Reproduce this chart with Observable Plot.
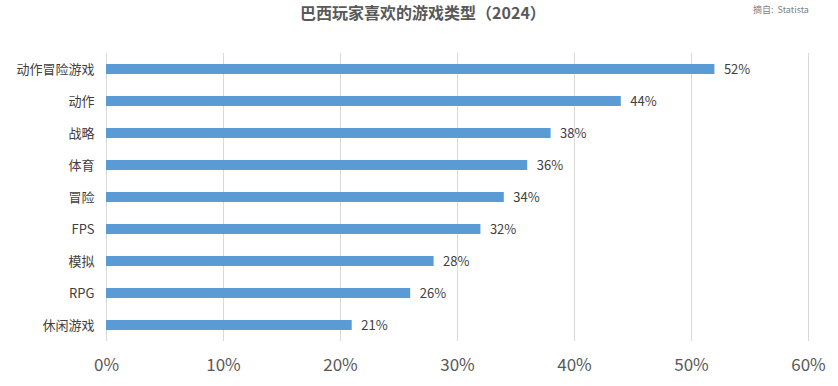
<!DOCTYPE html>
<html>
<head>
<meta charset="utf-8">
<script src="https://cdn.jsdelivr.net/npm/d3@7"></script>
<script src="https://cdn.jsdelivr.net/npm/@observablehq/plot@0.6"></script>
<style>
  html, body { margin: 0; padding: 0; background: #fff; }
  #wrap { position: relative; width: 838px; height: 386px; font-family: "Noto Sans CJK SC", "Noto Sans", sans-serif; }
  #title { position: absolute; left: 0; width: 838px; top: 0px; text-align: center; font-size: 16px; font-weight: bold; color: #595959; padding-left: 4px; }
  #source { position: absolute; left: 753px; top: 3px; font-size: 9px; color: #7f7f7f; }
  #chart { position: absolute; left: 0; top: 0; }
</style>
</head>
<body>
<div id="wrap">
  <div id="chart"></div>
  <div id="title">巴西玩家喜欢的游戏类型（2024）</div>
  <div id="source">摘自:&nbsp; Statista</div>
</div>
<script>
const categories = ["动作冒险游戏", "动作", "战略", "体育", "冒险", "FPS", "模拟", "RPG", "休闲游戏"];
const values = [52, 44, 38, 36, 34, 32, 28, 26, 21];
const xTicks = [0, 10, 20, 30, 40, 50, 60];

const data = categories.map((c, i) => ({category: c, value: values[i]}));

const chart = Plot.plot({
  width: 838,
  height: 386,
  marginLeft: 106,
  marginRight: 30,
  marginTop: 53,
  marginBottom: 45,
  style: {fontFamily: '"Noto Sans CJK SC", "Noto Sans", sans-serif', background: "transparent"},
  x: {domain: [0, 60], label: null},
  y: {domain: categories, paddingInner: 0.69, paddingOuter: 0.345, label: null},
  marks: [
    Plot.gridX(xTicks, {stroke: "#d9d9d9", strokeOpacity: 1, strokeWidth: 1}),
    Plot.barX(data, {x: "value", y: "category", fill: "#5b9bd5"}),
    Plot.text(data, {x: "value", y: "category", text: d => d.value + "%", textAnchor: "start", dx: 9, fontSize: 13, fill: "#404040"}),
    Plot.axisX(xTicks, {tickSize: 0, tickPadding: 17, fontSize: 17, color: "#595959", tickFormat: d => d + "%", label: null}),
    Plot.axisY({tickSize: 0, tickPadding: 12, fontSize: 13, color: "#404040", label: null})
  ]
});
document.getElementById("chart").appendChild(chart);
</script>
</body>
</html>
